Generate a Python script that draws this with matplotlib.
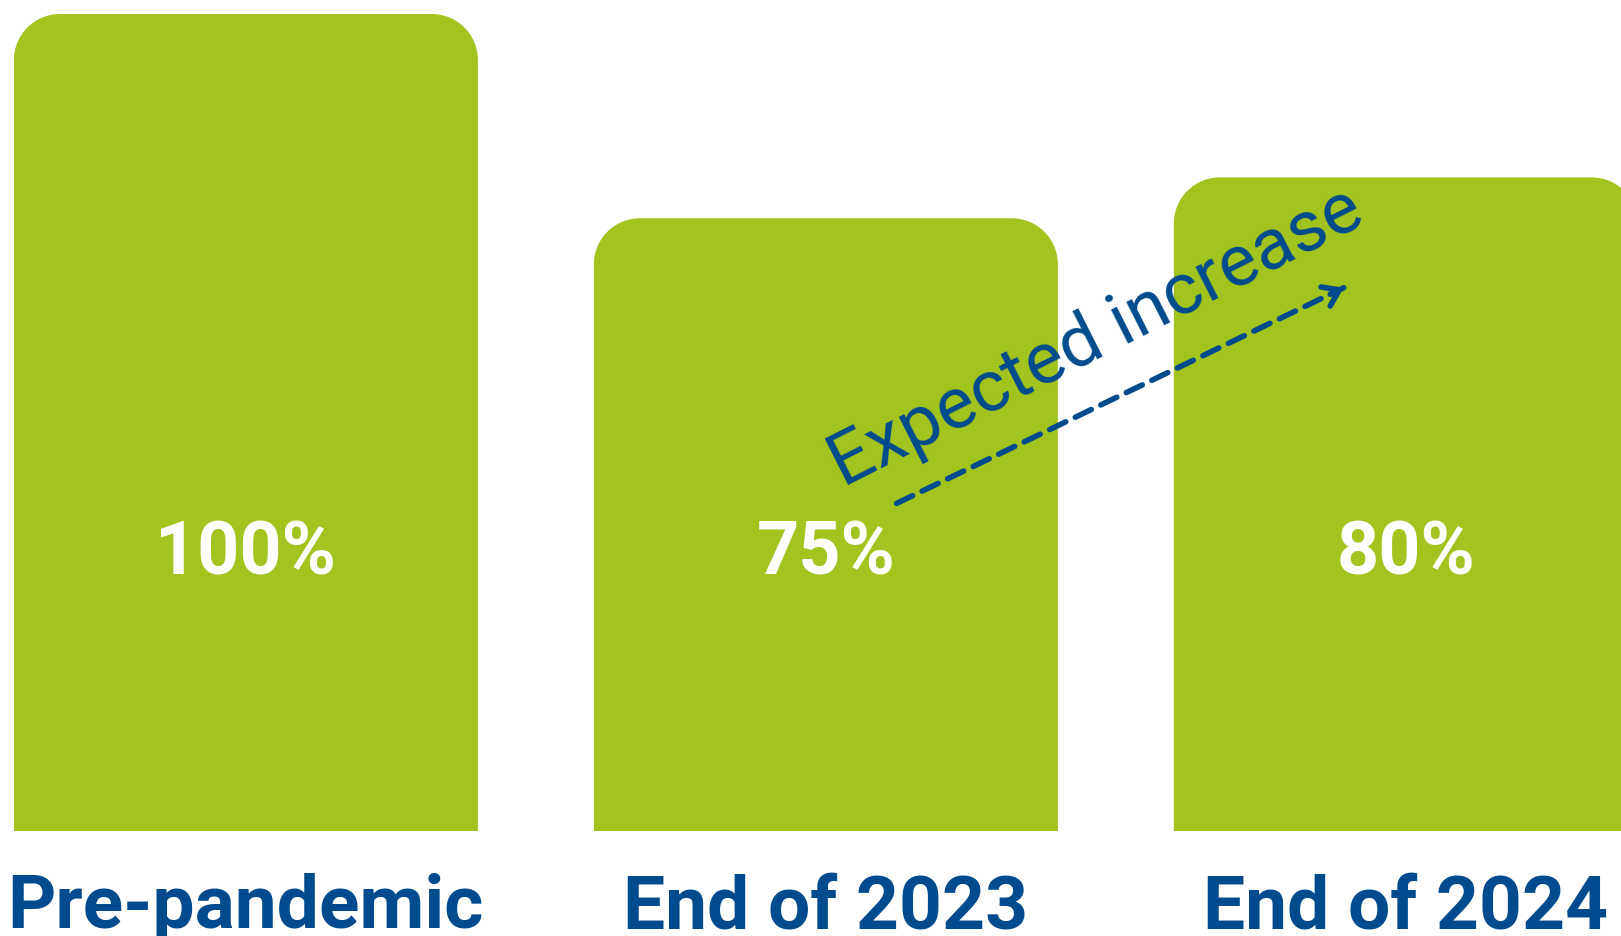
import matplotlib
matplotlib.use("Agg")
import matplotlib.pyplot as plt
from matplotlib.path import Path
from matplotlib.patches import PathPatch
import numpy as np

categories = ["Pre-pandemic", "End of 2023", "End of 2024"]
values = [100, 75, 80]
value_labels = ["100%", "75%", "80%"]
annotation_text = "Expected increase"

GREEN = "#a3c41e"
BLUE = "#004b8d"

W, H, DPI = 1621, 937, 100
fig = plt.figure(figsize=(W / DPI, H / DPI), dpi=DPI)
ax = fig.add_axes([0, 0, 1, 1])
ax.set_xlim(-0.424, 2.371)
ax.set_ylim(-12.85, 101.84)
ax.axis("off")

bar_w = 0.8
# corner radius ~46 px converted to data units in x and y
px_per_x = W / (2.371 + 0.424)
px_per_y = H / (101.84 + 12.85)
rx = 46 / px_per_x
ry = 46 / px_per_y
k = 0.5523


def rounded_top_bar(xc, h):
    x0, x1 = xc - bar_w / 2, xc + bar_w / 2
    verts = [
        (x0, 0), (x0, h - ry),
        (x0, h - ry + k * ry), (x0 + rx - k * rx, h), (x0 + rx, h),
        (x1 - rx, h),
        (x1 - rx + k * rx, h), (x1, h - ry + k * ry), (x1, h - ry),
        (x1, 0), (x0, 0),
    ]
    codes = [Path.MOVETO, Path.LINETO,
             Path.CURVE4, Path.CURVE4, Path.CURVE4,
             Path.LINETO,
             Path.CURVE4, Path.CURVE4, Path.CURVE4,
             Path.LINETO, Path.CLOSEPOLY]
    return PathPatch(Path(verts, codes), facecolor=GREEN, edgecolor="none")


for i, (cat, v, lab) in enumerate(zip(categories, values, value_labels)):
    ax.add_patch(rounded_top_bar(i, v))
    ax.text(i, 31.5, lab, ha="center", va="baseline", color="white",
            fontsize=53, fontweight="bold", family="Roboto")
    ax.text(i, -11.75, cat, ha="center", va="baseline", color=BLUE,
            fontsize=54, fontweight="bold", family="Roboto")

# dashed shaft
start = np.array([1.122, 40.1])
end = np.array([1.893, 66.5])
ax.annotate("", xy=tuple(end), xytext=tuple(start),
            arrowprops=dict(arrowstyle="-", color=BLUE, lw=4.0,
                            linestyle=(0, (3.2, 1.9)),
                            shrinkA=0, shrinkB=0))
# solid open arrow head
ax.annotate("", xy=tuple(end), xytext=tuple(end - 0.03 * (end - start)),
            arrowprops=dict(arrowstyle="->,head_length=0.55,head_width=0.38",
                            mutation_scale=20, color=BLUE, lw=4.0,
                            capstyle="round", joinstyle="round",
                            shrinkA=0, shrinkB=0))
ax.text(1.482, 58.4, annotation_text, rotation=26.8, rotation_mode="anchor",
        ha="center", va="baseline", color=BLUE, fontsize=52, family="Roboto")

fig.savefig("out.png", dpi=DPI)
